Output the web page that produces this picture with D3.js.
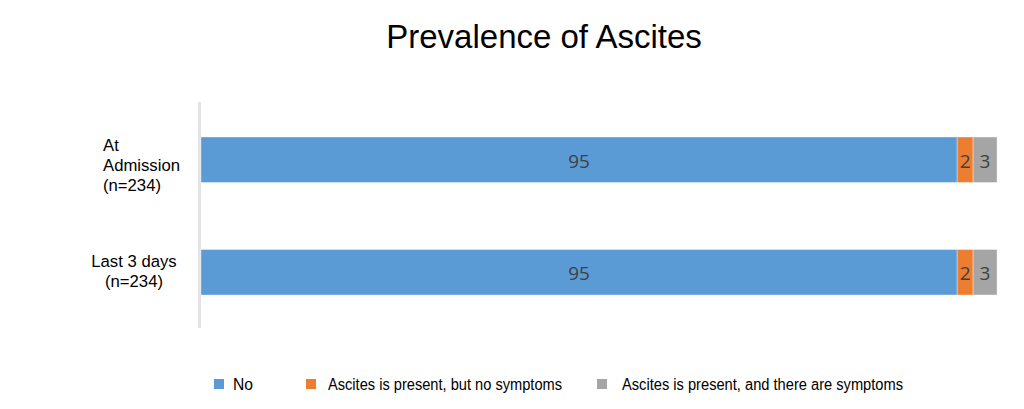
<!DOCTYPE html>
<html><head><meta charset="utf-8">
<script src="https://cdn.jsdelivr.net/npm/d3@7"></script>
<style>body{margin:0;background:#fff}</style>
</head><body>
<svg id="c" width="1024" height="409"></svg>
<script>
const categories = [["At","Admission","(n=234)"],["Last 3 days","(n=234)"]];
const seriesNames = ["No","Ascites is present, but no symptoms","Ascites is present, and there are symptoms"];
const colors = ["#5b9bd5","#ed7d31","#a5a5a5"];
const noVals = [95,95];
const presentNoSymptoms = [2,2];
const presentSymptoms = [3,3];
const title = "Prevalence of Ascites";

const svg = d3.select("#c");
const series = [noVals, presentNoSymptoms, presentSymptoms];
const x = d3.scaleLinear().domain([0,100]).range([201,997]);
const y = d3.scaleBand().domain(d3.range(categories.length)).range([104,328]).paddingInner(0.596).paddingOuter(0.2935);

svg.append("text").attr("x",544).attr("y",48).attr("text-anchor","middle")
  .attr("font-family","Liberation Sans, Arial").attr("font-size",33).attr("fill","#000").text(title);

// axis line
svg.append("line").attr("x1",199.5).attr("x2",199.5).attr("y1",102).attr("y2",328)
  .attr("stroke","#e3e3e3").attr("stroke-width",3);

const labelShift = [11, 4.5];
categories.forEach((lines,i)=>{
  let cum = 0;
  series.forEach((s,k)=>{
    const v = s[i];
    const x0 = x(cum), x1 = x(cum+v);
    svg.append("rect").attr("x",x0).attr("y",y(i)).attr("width",x1-x0).attr("height",y.bandwidth())
      .attr("fill",colors[k]).attr("stroke","rgba(255,255,255,0.35)").attr("stroke-width",1);
    svg.append("text").attr("x",(x0+x1)/2).attr("y",y(i)+y.bandwidth()/2+8)
      .attr("text-anchor","middle").attr("font-family","Open Sans, sans-serif").attr("font-size",19)
      .attr("fill","#404040").text(v);
    cum += v;
  });
  const cy = y(i)+y.bandwidth()/2 + labelShift[i];
  const lh = 20;
  const anchorLeft = lines.length===3;
  const t = svg.append("text").attr("font-family","Liberation Sans, Arial").attr("font-size",16.7).attr("fill","#000");
  lines.forEach((ln,j)=>{
    const yy = cy + (j-(lines.length-1)/2)*lh;
    if(anchorLeft){
      t.append("tspan").attr("x",103).attr("y",yy).attr("text-anchor","start").text(ln);
    } else {
      t.append("tspan").attr("x",134).attr("y",yy).attr("text-anchor","middle").text(ln);
    }
  });
});

// legend
const legX = [214,306,597];
const legTextX = [233,328,622];
const legTextW = [20,234,281];
seriesNames.forEach((n,k)=>{
  svg.append("rect").attr("x",legX[k]).attr("y",379).attr("width",10).attr("height",10).attr("fill",colors[k]);
  svg.append("text").attr("x",legTextX[k]).attr("y",390)
    .attr("font-family","Liberation Sans, Arial").attr("font-size",16).attr("fill","#000")
    .attr("textLength", legTextW[k]).attr("lengthAdjust","spacingAndGlyphs").text(n);
});
</script>
</body></html>
